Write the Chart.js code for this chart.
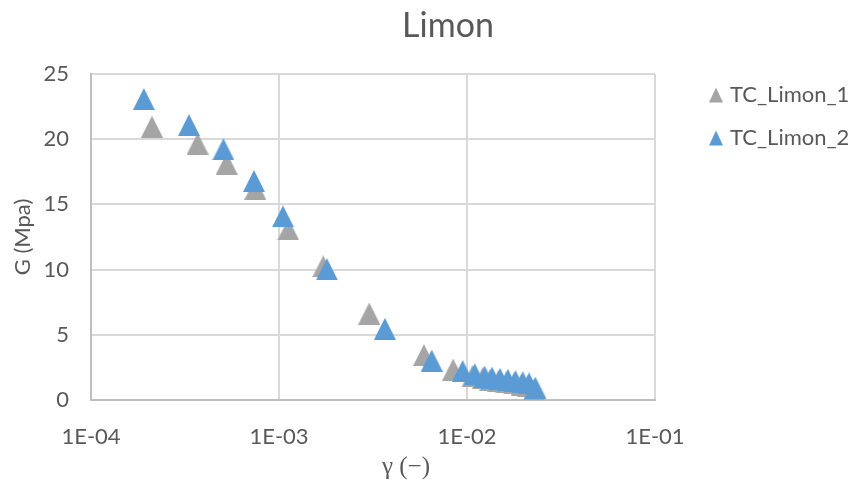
<!DOCTYPE html>
<html>
<head>
<meta charset="utf-8">
<script src="https://cdn.jsdelivr.net/npm/chart.js@4.4.1/dist/chart.umd.min.js"></script>
<style>
  html, body { margin: 0; padding: 0; background: #ffffff; }
  #wrap { width: 850px; height: 482px; position: relative; }
</style>
</head>
<body>
<div id="wrap"><canvas id="c" width="850" height="482"></canvas></div>
<script>
// ---- data ----
const chartTitle = 'Limon';
const xAxisTitle = 'γ (−)';
const yAxisTitle = 'G (Mpa)';
const seriesNames = ['TC_Limon_1', 'TC_Limon_2'];

const gammaLimon1 = [2.11e-4, 3.69e-4, 5.27e-4, 7.48e-4, 1.12e-3, 1.72e-3, 3.02e-3, 5.90e-3, 8.44e-3,
                     1.07e-2, 1.21e-2, 1.33e-2, 1.47e-2, 1.62e-2, 1.78e-2, 1.95e-2, 2.10e-2, 2.28e-2];
const gLimon1     = [20.95, 19.66, 18.13, 16.20, 13.08, 10.25, 6.63, 3.44, 2.33,
                     1.85, 1.66, 1.56, 1.46, 1.36, 1.27, 1.17, 1.05, 0.80];

const gammaLimon2 = [1.91e-4, 3.32e-4, 5.06e-4, 7.36e-4, 1.05e-3, 1.80e-3, 3.66e-3, 6.49e-3, 9.48e-3,
                     1.10e-2, 1.24e-2, 1.36e-2, 1.50e-2, 1.65e-2, 1.81e-2, 1.98e-2, 2.14e-2, 2.31e-2];
const gLimon2     = [23.08, 21.08, 19.23, 16.79, 14.08, 10.02, 5.46, 3.02, 2.22,
                     1.97, 1.80, 1.71, 1.62, 1.54, 1.45, 1.36, 1.27, 0.95];

const xTickValues = [1e-4, 1e-3, 1e-2, 1e-1];
const xTickLabels = ['1E-04', '1E-03', '1E-02', '1E-01'];
const yTickValues = [0, 5, 10, 15, 20, 25];

// ---- styling ----
const colors = ['#A5A5A5', '#5B9BD5'];
const textColor = '#595959';
const sans = 'Lato, "Open Sans", sans-serif';

function triangleCanvas(color, w, h) {
  const cv = document.createElement('canvas');
  cv.width = w; cv.height = h;
  const g = cv.getContext('2d');
  g.fillStyle = color;
  g.beginPath();
  g.moveTo(w / 2, 0);
  g.lineTo(w, h);
  g.lineTo(0, h);
  g.closePath();
  g.fill();
  return cv;
}

function toPoints(xs, ys) { return xs.map((x, i) => ({ x: x, y: ys[i] })); }

const decorPlugin = {
  id: 'decor',
  afterDraw(chart) {
    const ctx = chart.ctx;
    ctx.save();
    // chart title
    ctx.fillStyle = textColor;
    ctx.font = '34px ' + sans;
    ctx.textAlign = 'center';
    ctx.textBaseline = 'alphabetic';
    ctx.fillText(chartTitle, 448, 37);
    // x axis title
    ctx.font = '25px "Liberation Serif", serif';
    ctx.textBaseline = 'middle';
    ctx.fillText(xAxisTitle, 406, 467);
    // y axis title
    ctx.save();
    ctx.translate(23, 237);
    ctx.rotate(-Math.PI / 2);
    ctx.font = '22px ' + sans;
    ctx.textAlign = 'center';
    ctx.textBaseline = 'middle';
    ctx.fillText(yAxisTitle, 0, 0);
    ctx.restore();
    // legend
    const rows = [95, 138];
    chart.data.datasets.forEach((ds, i) => {
      const cy = rows[i];
      ctx.fillStyle = ds.backgroundColor;
      ctx.beginPath();
      ctx.moveTo(716, cy - 7.5);
      ctx.lineTo(723, cy + 7.5);
      ctx.lineTo(709, cy + 7.5);
      ctx.closePath();
      ctx.fill();
      ctx.fillStyle = textColor;
      ctx.font = '22px ' + sans;
      ctx.textAlign = 'left';
      ctx.textBaseline = 'middle';
      ctx.fillText(ds.label, 730, cy);
    });
    ctx.restore();
  }
};

new Chart(document.getElementById('c'), {
  type: 'scatter',
  data: {
    datasets: [
      {
        label: seriesNames[0],
        data: toPoints(gammaLimon1, gLimon1),
        backgroundColor: colors[0],
        borderColor: colors[0],
        pointStyle: triangleCanvas(colors[0], 22, 22),
        pointRadius: 11,
        order: 1
      },
      {
        label: seriesNames[1],
        data: toPoints(gammaLimon2, gLimon2),
        backgroundColor: colors[1],
        borderColor: colors[1],
        pointStyle: triangleCanvas(colors[1], 22, 22),
        pointRadius: 11,
        order: 0
      }
    ]
  },
  options: {
    responsive: false,
    animation: false,
    devicePixelRatio: 1,
    layout: { padding: { left: 0, top: 74, right: 195, bottom: 0 } },
    plugins: {
      legend: { display: false },
      title: { display: false },
      tooltip: { enabled: false }
    },
    scales: {
      x: {
        type: 'logarithmic',
        min: xTickValues[0],
        max: xTickValues[xTickValues.length - 1],
        afterBuildTicks(scale) { scale.ticks = xTickValues.map(v => ({ value: v, major: true })); },
        afterFit(scale) { scale.height = 82; },
        ticks: {
          autoSkip: false,
          maxRotation: 0,
          padding: 24,
          color: textColor,
          font: { family: sans, size: 22 },
          callback(value, index) { return xTickLabels[index]; }
        },
        grid: { color: '#d9d9d9', lineWidth: 2, drawTicks: false },
        border: { color: '#bfbfbf', width: 2 }
      },
      y: {
        type: 'linear',
        min: yTickValues[0],
        max: yTickValues[yTickValues.length - 1],
        afterBuildTicks(scale) { scale.ticks = yTickValues.map(v => ({ value: v })); },
        afterFit(scale) { scale.width = 91; },
        ticks: {
          padding: 22,
          color: textColor,
          font: { family: sans, size: 22 }
        },
        grid: { color: '#d9d9d9', lineWidth: 2, drawTicks: false },
        border: { color: '#bfbfbf', width: 2 }
      }
    }
  },
  plugins: [decorPlugin]
});
</script>
</body>
</html>
